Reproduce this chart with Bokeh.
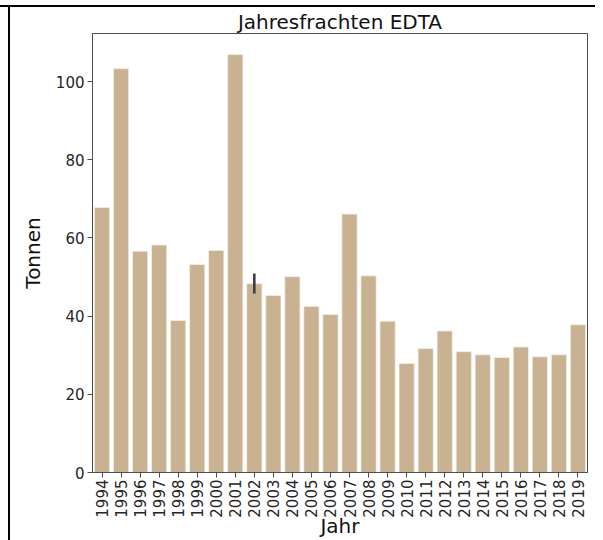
import math
from bokeh.plotting import figure
from bokeh.models import Range1d, FactorRange, Div
from bokeh.layouts import column, row
from bokeh.embed import file_html
from bokeh.resources import INLINE

years = [str(y) for y in range(1994, 2020)]
tonnen = [67.8, 103.3, 56.6, 58.2, 38.9, 53.2, 56.8, 106.9, 48.3, 45.3,
          50.1, 42.5, 40.4, 66.1, 50.3, 38.7, 27.9, 31.7, 36.2, 30.9,
          30.1, 29.4, 32.1, 29.6, 30.1, 37.8]
err_years = ["2002"]
err_low = [45.8]
err_high = [50.9]
y_ticks = [0, 20, 40, 60, 80, 100]

BAR = "#c8b291"
FONT = "DejaVu Sans"

TOPY = 7          # figure starts below the top rule
LEFTX = 10        # figure starts right of the left rule
W, H = 595 - LEFTX, 540 - TOPY
L, R = 92 - LEFTX, 8
T, B = 33 - TOPY, 540 - 472

p = figure(width=W, height=H, x_range=FactorRange(*years),
           y_range=Range1d(0, 112.3), output_backend="svg",
           toolbar_location=None, min_border_left=L, min_border_right=R,
           min_border_top=T, min_border_bottom=B)
p.vbar(x=years, top=tonnen, width=0.8, fill_color=BAR, line_color="#f3efe8",
       line_width=0.8)
p.segment(x0=err_years, y0=err_low, x1=err_years, y1=err_high,
          line_color="#3f3f3f", line_width=2.6)

p.xgrid.visible = False
p.ygrid.visible = False
p.outline_line_color = "#4d4d4d"
p.outline_line_width = 1
p.x_range.range_padding = 0.0

p.title.text = "Jahresfrachten EDTA"
p.title.align = "center"
p.title.text_font = FONT
p.title.text_font_size = "20px"
p.title.text_font_style = "normal"
p.title.text_color = "#111111"
p.title.standoff = 0

for ax in (p.xaxis[0], p.yaxis[0]):
    ax.axis_line_color = "#4d4d4d"
    ax.major_tick_line_color = "#4d4d4d"
    ax.major_tick_out = 5
    ax.major_tick_in = 0
    ax.minor_tick_line_color = None
    ax.major_label_text_font = FONT
    ax.major_label_text_font_size = "15px"
    ax.major_label_text_color = "#262626"
    ax.axis_label_text_font = FONT
    ax.axis_label_text_font_size = "20px"
    ax.axis_label_text_font_style = "normal"
    ax.axis_label_text_color = "#111111"

p.yaxis.ticker = y_ticks
p.yaxis.major_label_standoff = 3
p.yaxis.axis_label = "Tonnen"
p.yaxis.axis_label_standoff = 8
p.xaxis.major_label_orientation = math.pi / 2
p.xaxis.major_label_standoff = 2
p.xaxis.axis_label = "Jahr"
p.xaxis.axis_label_standoff = -7

top_rule = Div(text="", width=595, height=2, margin=(5, 0, 0, 0),
               styles={"background-color": "black"})
left_rule = Div(text="", width=2, height=H, margin=(0, 0, 0, 8),
                styles={"background-color": "black"})

layout = column(top_rule, row(left_rule, p, spacing=0), spacing=0)

open("out.html", "w").write(file_html(layout, INLINE))
